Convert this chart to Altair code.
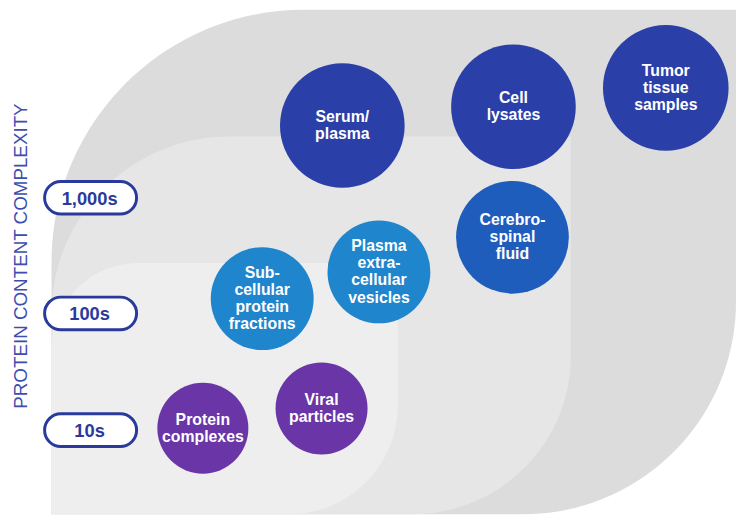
import altair as alt
import pandas as pd

# ---- data (image pixel coordinates) ----
sample_labels = ["Protein\ncomplexes", "Viral\nparticles", "Sub-\ncellular\nprotein\nfractions",
                 "Plasma\nextra-\ncellular\nvesicles", "Cerebro-\nspinal\nfluid",
                 "Serum/\nplasma", "Cell\nlysates", "Tumor\ntissue\nsamples"]
sample_x = [205, 325, 265, 383, 518, 346, 519, 673]
sample_y = [430, 410, 299, 272, 237, 124, 105, 86]
sample_r = [46, 46.5, 52, 52, 57, 63, 63, 63.5]
sample_group = ["10s", "10s", "100s", "100s", "1,000s", "1,000s+", "1,000s+", "1,000s+"]

level_labels = ["1,000s", "100s", "10s"]
level_y = [197, 314, 432]

zone_names = ["outer", "middle", "inner"]
zone_left = [52, 52, 52]
zone_top = [7, 135, 263]
zone_right = [744, 577, 402]
zone_bottom = [517, 517, 517]

group_colors = {"10s": "#6a35a7", "100s": "#1f85cc", "1,000s": "#1f5dbd", "1,000s+": "#2b3fa8"}
zone_colors = {"outer": "#dcdcdc", "middle": "#e6e6e6", "inner": "#eeeeee"}
zone_radius_tl = {"outer": 262, "middle": 180, "inner": 88}
zone_radius_br = {"outer": 215, "middle": 160, "inner": 110}

navy = "#2a3a9c"
LINE_H = 17.3

xs = alt.Scale(domain=[8, 744], nice=False, zero=False)
ys = alt.Scale(domain=[8, 518], nice=False, zero=False, reverse=True)
noax = None

zones = pd.DataFrame({"zone": zone_names, "x": zone_left, "y": zone_top,
                      "x2": zone_right, "y2": zone_bottom})

layers = []
for name in zone_names:
    layers.append(
        alt.Chart(zones[zones.zone == name]).mark_rect(
            color=zone_colors[name],
            cornerRadiusTopLeft=zone_radius_tl[name],
            cornerRadiusBottomRight=zone_radius_br[name],
            clip=False,
        ).encode(
            x=alt.X("x:Q", scale=xs, axis=noax),
            x2="x2:Q",
            y=alt.Y("y:Q", scale=ys, axis=noax),
            y2="y2:Q",
        )
    )

samples = pd.DataFrame({"label": sample_labels, "x": sample_x, "y": sample_y,
                        "r": sample_r, "group": sample_group})

circles = alt.Chart(samples).transform_calculate(
    size="pow(2*datum.r, 2)"
).mark_circle(opacity=1).encode(
    x=alt.X("x:Q", scale=xs, axis=noax),
    y=alt.Y("y:Q", scale=ys, axis=noax),
    size=alt.Size("size:Q", scale=None, legend=None),
    color=alt.Color("group:N", scale=alt.Scale(domain=list(group_colors.keys()),
                                               range=list(group_colors.values())), legend=None),
)

circle_text = alt.Chart(samples).transform_calculate(
    nlines="length(split(datum.label, '\\n'))",
    ty=f"datum.y - (datum.nlines - 1) * {LINE_H} / 2",
).mark_text(
    color="white", font="Liberation Sans", fontWeight="bold", fontSize=16,
    lineBreak="\n", lineHeight=LINE_H, align="center", baseline="middle",
).encode(
    x=alt.X("x:Q", scale=xs, axis=noax),
    y=alt.Y("ty:Q", scale=ys, axis=noax),
    text="label:N",
)

levels = pd.DataFrame({"label": level_labels, "y": level_y})

pills = alt.Chart(levels).transform_calculate(
    x1="45", x2="138", y1="datum.y - 16.5", y2="datum.y + 16.5"
).mark_rect(
    fill="white", stroke=navy, strokeWidth=3, cornerRadius=16.5,
).encode(
    x=alt.X("x1:Q", scale=xs, axis=noax),
    x2="x2:Q",
    y=alt.Y("y1:Q", scale=ys, axis=noax),
    y2="y2:Q",
)

pill_text = alt.Chart(levels).transform_calculate(x="90.5").mark_text(
    color=navy, font="Liberation Sans", fontWeight="bold", fontSize=18.5,
    align="center", baseline="middle", dy=1,
).encode(
    x=alt.X("x:Q", scale=xs, axis=noax),
    y=alt.Y("y:Q", scale=ys, axis=noax),
    text="label:N",
)

title_df = pd.DataFrame({"t": ["PROTEIN CONTENT COMPLEXITY"], "x": [21], "y": [256]})
axis_title = alt.Chart(title_df).mark_text(
    color="#3d4db0", font="Liberation Sans", fontSize=19, angle=270,
    align="center", baseline="middle",
).encode(
    x=alt.X("x:Q", scale=xs, axis=noax),
    y=alt.Y("y:Q", scale=ys, axis=noax),
    text="t:N",
)

chart = alt.layer(*layers, circles, circle_text, pills, pill_text, axis_title).properties(
    width=736, height=510, padding=0, autosize="none", background="white",
).configure_view(stroke=None)

chart.save("out.html", embed_options={"renderer": "svg", "actions": False})
